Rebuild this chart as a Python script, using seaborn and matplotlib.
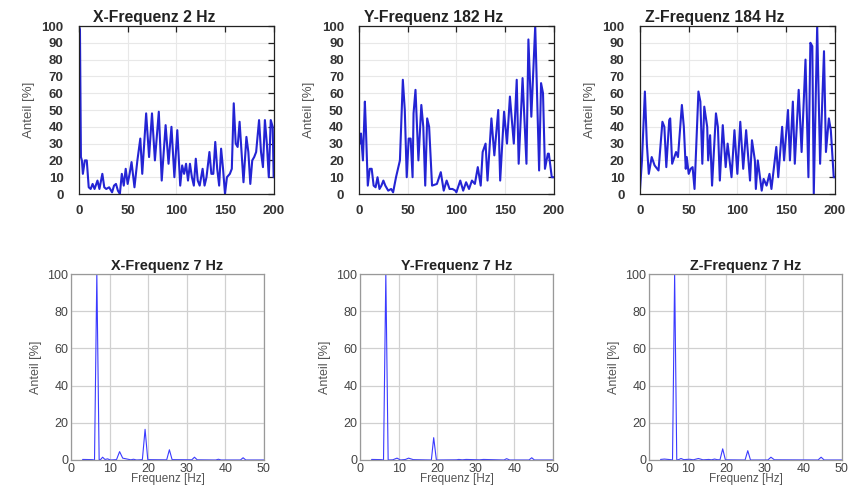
import matplotlib
matplotlib.use("Agg")
import matplotlib.pyplot as plt
import seaborn as sns

# Oberer Bereich: Spektren 0-200 Hz
x_freq_top = [0, 1, 2, 3, 4, 6, 8, 10, 12, 14,
              16, 19, 21, 24, 26, 28, 31, 34, 36, 38,
              40, 42, 44, 46, 48, 50, 52, 54, 57, 60,
              63, 65, 69, 72, 75, 78, 82, 85, 89, 92,
              95, 98, 101, 104, 106, 108, 110, 112, 114, 116,
              118, 120, 122, 124, 127, 129, 131, 134, 136, 138,
              140, 142, 144, 146, 148, 150, 152, 155, 157, 159,
              161, 163, 165, 167, 169, 172, 174, 176, 178, 180,
              182, 185, 187, 189, 191, 193, 195, 197, 199, 200]
x_anteil_top = [100, 98, 22, 20, 12, 20, 20, 4, 3, 6,
                3, 8, 3, 12, 4, 3, 4, 1, 5, 6,
                2, 0, 12, 5, 15, 6, 12, 19, 4, 20,
                33, 12, 48, 22, 48, 20, 49, 8, 41, 18,
                40, 10, 38, 5, 17, 12, 18, 8, 18, 10,
                5, 21, 8, 5, 15, 5, 10, 25, 12, 12,
                31, 15, 5, 27, 15, 0, 10, 12, 15, 54,
                30, 28, 43, 25, 7, 34, 25, 6, 20, 22,
                25, 44, 25, 16, 44, 30, 10, 44, 40, 10]

y_freq_top = [0, 1, 2, 4, 6, 7, 9, 11, 13, 15,
              17, 19, 21, 23, 25, 27, 30, 33, 35, 38,
              42, 45, 47, 49, 51, 53, 55, 56, 58, 61,
              64, 66, 68, 70, 72, 75, 80, 84, 87, 90,
              93, 96, 99, 100, 104, 107, 110, 113, 116, 119,
              122, 125, 127, 130, 132, 136, 139, 143, 145, 149,
              152, 155, 159, 162, 164, 168, 172, 174, 177, 181,
              185, 187, 189, 191, 194, 195, 198, 200]
y_anteil_top = [35, 30, 36, 20, 55, 40, 5, 15, 15, 5,
                4, 10, 3, 5, 8, 5, 2, 3, 1, 10,
                20, 68, 50, 10, 33, 33, 10, 48, 62, 20,
                53, 40, 5, 45, 40, 5, 6, 13, 2, 8,
                3, 3, 2, 1, 8, 2, 7, 3, 8, 6,
                16, 5, 25, 30, 8, 45, 23, 50, 8, 49,
                30, 58, 30, 68, 18, 69, 18, 92, 46, 100,
                14, 66, 60, 15, 24, 24, 10, 10]

z_freq_top = [0, 2, 5, 7, 9, 12, 15, 19, 23, 25,
              27, 30, 31, 33, 37, 39, 43, 45, 47, 48,
              50, 52, 54, 56, 60, 62, 64, 66, 69, 70,
              72, 74, 78, 80, 82, 85, 88, 90, 94, 97,
              100, 103, 106, 109, 113, 115, 118, 119, 121, 125,
              127, 130, 133, 135, 140, 142, 146, 148, 152, 154,
              157, 159, 163, 166, 170, 173, 175, 177, 178.5, 182,
              185, 189, 191, 194, 196, 199, 200]
z_anteil_top = [3, 20, 61, 30, 12, 22, 17, 14, 43, 40,
                16, 44, 45, 18, 25, 22, 53, 40, 15, 22,
                12, 15, 16, 3, 61, 55, 18, 52, 40, 20,
                35, 5, 48, 40, 8, 41, 16, 30, 10, 38,
                12, 43, 15, 38, 8, 32, 20, 3, 20, 2,
                9, 5, 12, 3, 28, 10, 40, 20, 50, 20,
                55, 18, 62, 25, 80, 10, 90, 88, 0, 100,
                18, 85, 25, 45, 38, 10, 10]

# Unterer Bereich: Spektren 0-50 Hz
x_freq_bot = [3, 5.5, 6.1, 6.7, 7.3, 7.7, 8.2, 8.8, 9.5, 10.2,
              11.8, 12.6, 13.4, 15.5, 16.2, 17, 18.5, 19.2, 19.9, 24.8,
              25.5, 26.2, 31.3, 32, 32.7, 37.5, 38.2, 38.9, 43.9, 44.6,
              45.3, 50]
x_anteil_bot = [0.3, 0.2, 0, 100, 0, 0.3, 1.5, 0.3, 0.6, 0,
                0.2, 4.5, 1, 0.1, 0.4, 0, 0.2, 16.5, 0.2, 0.1,
                5.5, 0.2, 0.1, 1.5, 0.1, 0, 0.4, 0, 0, 1.2,
                0, 0]

y_freq_bot = [3, 5.5, 6.1, 6.7, 7.3, 8.5, 9.6, 10.5, 11.8, 12.6,
              13.8, 18.5, 19.1, 19.8, 25, 25.6, 26.5, 27.5, 31, 32,
              37.3, 38, 38.8, 43.8, 44.5, 45.2, 50]
y_anteil_bot = [0.3, 0.2, 0, 100, 0, 0.1, 1, 0, 0.3, 1,
                0.2, 0, 12, 0, 0.1, 0.3, 0.1, 0.3, 0.1, 0.3,
                0, 0.7, 0, 0, 1.2, 0, 0]

z_freq_bot = [3, 4, 5.5, 6.1, 6.65, 7.2, 7.8, 8.3, 9, 10.5,
              11.5, 12.8, 14, 15.5, 16.2, 17, 17.6, 18.4, 19.1, 19.8,
              24.9, 25.6, 26.3, 30.8, 31.6, 32.5, 43.8, 44.6, 45.4, 50]
z_anteil_bot = [0.3, 0.5, 0.2, 0, 100, 0, 0.3, 0.8, 0.2, 0.4,
                0.1, 0.8, 0.1, 0.3, 0.1, 0.5, 0.2, 0.1, 6, 0.1,
                0, 5, 0, 0, 1.5, 0.1, 0, 1.5, 0, 0]

titles_top = ["X-Frequenz 2 Hz", "Y-Frequenz 182 Hz", "Z-Frequenz 184 Hz"]
titles_bot = ["X-Frequenz 7 Hz", "Y-Frequenz 7 Hz", "Z-Frequenz 7 Hz"]

sns.set_theme(style="white")
plt.rcParams["font.family"] = ["Liberation Sans", "DejaVu Sans"]

fig = plt.figure(figsize=(8.52, 4.86), dpi=100)

top_lefts = [0.0927, 0.4214, 0.7512]
bot_lefts = [0.0833, 0.4225, 0.7617]

top_data = [(x_freq_top, x_anteil_top), (y_freq_top, y_anteil_top), (z_freq_top, z_anteil_top)]
bot_data = [(x_freq_bot, x_anteil_bot), (y_freq_bot, y_anteil_bot), (z_freq_bot, z_anteil_bot)]

for left, (fx, fy), title in zip(top_lefts, top_data, titles_top):
    ax = fig.add_axes([left, 0.6008, 0.2285, 0.3457])
    sns.lineplot(x=fx, y=fy, ax=ax, color="#2424d4", linewidth=1.5,
                 sort=False, estimator=None, legend=False)
    ax.set_xlim(0, 200)
    ax.set_ylim(0, 100)
    ax.set_xticks(range(0, 201, 50))
    ax.set_yticks(range(0, 101, 10))
    ax.grid(True, color="#e8e8e8", linewidth=0.8)
    for s in ax.spines.values():
        s.set_color("#222222")
        s.set_linewidth(0.9)
    ax.tick_params(direction="in", length=4, width=0.9, color="#222222",
                   top=True, right=True, labelsize=9.5, labelcolor="#333333")
    ax.tick_params(axis="x", pad=8)
    ax.tick_params(axis="y", pad=11)
    for lab in ax.get_xticklabels() + ax.get_yticklabels():
        lab.set_fontweight("bold")
    ax.set_ylabel("Anteil [%]", fontsize=9.5, color="#555555", labelpad=5)
    ax.set_xlabel("")
    # Titel oben sitzt etwas links der Achsenmitte
    ax.set_title(title, fontsize=11.3, fontweight="bold", color="#222222", pad=3, x=0.385)

for left, (fx, fy), title in zip(bot_lefts, bot_data, titles_bot):
    ax = fig.add_axes([left, 0.0535, 0.2265, 0.3827])
    sns.lineplot(x=fx, y=fy, ax=ax, color="#3a3aff", linewidth=0.8,
                 sort=False, estimator=None, legend=False)
    ax.set_xlim(0, 50)
    ax.set_ylim(0, 100)
    ax.set_xticks(range(0, 51, 10))
    ax.set_yticks(range(0, 101, 20))
    ax.grid(True, color="#d0d0d0", linewidth=0.9)
    for s in ax.spines.values():
        s.set_color("#999999")
        s.set_linewidth(0.9)
    ax.tick_params(length=0, labelsize=9, labelcolor="#444444", pad=2)
    ax.set_ylabel("Anteil [%]", fontsize=9, color="#555555", labelpad=4)
    ax.set_xlabel("Frequenz [Hz]", fontsize=8.5, color="#555555", labelpad=-1)
    ax.set_title(title, fontsize=10.4, fontweight="bold", color="#222222", pad=3)

fig.savefig("out.png", dpi=100)
